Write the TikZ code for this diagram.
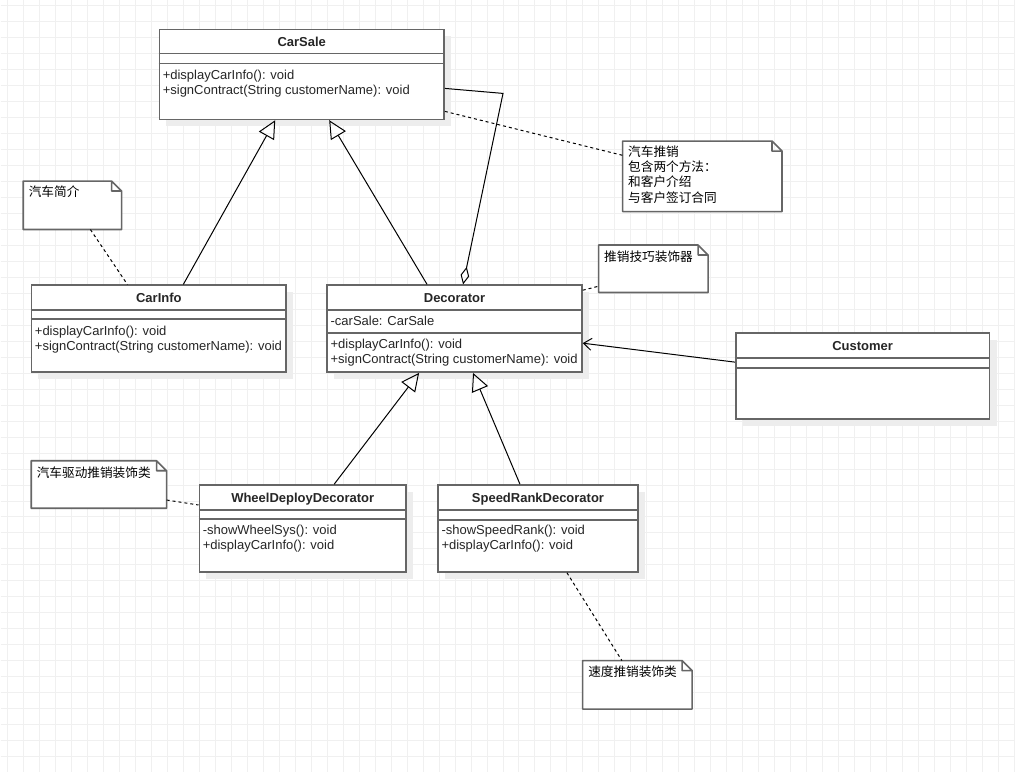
\documentclass[tikz,border=0pt]{standalone}
\usepackage{fontspec}
\setmainfont{Liberation Sans}
\newfontfamily\cjk{Noto Sans CJK SC}
\usetikzlibrary{arrows.meta,fit,shadows}

\begin{document}
\begin{tikzpicture}  % ------ Diagramme de classes : vente de voitures (décorateur) -------
      [x=.75pt, y=-.75pt, font=\fontsize{9.75}{11.25}\selectfont,
       grille/.style={black!6, line width=.75pt},
       classe/.style={draw=black!60, line width=1.2pt, fill=white, inner sep=0pt,
                      general shadow={fill=black!7, shadow xshift=5.25pt, shadow yshift=-5.25pt}},
       bloc/.style={inner sep=0pt},
       trait/.style={black!60, line width=1.2pt},
       bord/.style={draw=black!60, line width=1.2pt, fill=white, line join=round},
       titre/.style={anchor=base, inner sep=0pt, text=black!85, font=\fontsize{9.75}{11.25}\selectfont\bfseries},
       membres/.style={anchor=base west, align=left, inner sep=0pt, xshift=3pt, text=black!85},
       texte/.style={anchor=base west, align=left, inner sep=0pt, xshift=4pt,
                     font=\cjk\fontsize{9.5}{11.5}\selectfont},
       herite/.style={-{Triangle[open, length=13.5pt, width=13pt]}, line width=.75pt},
       agreg/.style={{Diamond[open, length=13.5pt, width=6.5pt]}-, line width=.75pt},
       assoc/.style={-{Straight Barb[length=6pt, width=9pt]}, line width=.75pt},
       pointille/.style={dash pattern=on 2.25pt off 2.25pt, line width=.75pt}]

    % fond quadrillé
    \fill[white] (0,0) rectangle (1015,772);
    \foreach \i in {7,23,...,1015} \draw[grille] (\i,0) -- (\i,772);
    \foreach \j in {5,21,...,772} \draw[grille] (0,\j) -- (1015,\j);
    \useasboundingbox (0,0) rectangle (1015,772);

    % classes
    \node[classe, fit={(159,29) (444,119)}] (CarSale) {};
    \node[classe, fit={(31,285) (286,372)}] (CarInfo) {};
    \node[classe, fit={(327,285) (582,372)}] (Deco) {};
    \node[classe, fit={(736,333) (990,419)}] (Client) {};
    \node[classe, fit={(199,485) (406,572)}] (Wheel) {};
    \node[classe, fit={(438,485) (638,572)}] (Speed) {};

    \draw[trait] (CarSale.west |- 0,53) -- (CarSale.east |- 0,53)  (CarSale.west |- 0,63) -- (CarSale.east |- 0,63);
    \draw[trait] (CarInfo.west |- 0,310) -- (CarInfo.east |- 0,310)  (CarInfo.west |- 0,319) -- (CarInfo.east |- 0,319);
    \draw[trait] (Deco.west |- 0,310) -- (Deco.east |- 0,310)  (Deco.west |- 0,333) -- (Deco.east |- 0,333);
    \draw[trait] (Client.west |- 0,358) -- (Client.east |- 0,358)  (Client.west |- 0,368) -- (Client.east |- 0,368);
    \draw[trait] (Wheel.west |- 0,510) -- (Wheel.east |- 0,510)  (Wheel.west |- 0,519) -- (Wheel.east |- 0,519);
    \draw[trait] (Speed.west |- 0,510) -- (Speed.east |- 0,510)  (Speed.west |- 0,520) -- (Speed.east |- 0,520);

    % (base d'un texte sur plusieurs lignes = dernière ligne)
    \node[titre] at (CarSale.north |- 0,46) {CarSale};
    \node[membres] at (CarSale.west |- 0,94) {+displayCarInfo(): void\\+signContract(String customerName): void};
    \node[titre] at (CarInfo.north |- 0,302) {CarInfo};
    \node[membres] at (CarInfo.west |- 0,350) {+displayCarInfo(): void\\+signContract(String customerName): void};
    \node[titre] at (Deco.north |- 0,302) {Decorator};
    \node[membres] at (Deco.west |- 0,325) {-carSale: CarSale};
    \node[membres] at (Deco.west |- 0,363) {+displayCarInfo(): void\\+signContract(String customerName): void};
    \node[titre] at (Client.north |- 0,350) {Customer};
    \node[titre] at (Wheel.north |- 0,502) {WheelDeployDecorator};
    \node[membres] at (Wheel.west |- 0,550) {-showWheelSys(): void\\+displayCarInfo(): void};
    \node[titre] at (Speed.north |- 0,502) {SpeedRankDecorator};
    \node[membres] at (Speed.west |- 0,550) {-showSpeedRank(): void\\+displayCarInfo(): void};

    % notes (coin replié)
    \node[bloc, fit={(23,181) (121,229)}] (noteInfo) {};
    \node[bloc, fit={(623,141) (782,211)}] (noteVente) {};
    \node[bloc, fit={(599,245) (708,292)}] (noteDeco) {};
    \node[bloc, fit={(31,461) (166,508)}] (noteWheel) {};
    \node[bloc, fit={(583,661) (692,709)}] (noteSpeed) {};
    \foreach \n in {noteInfo,noteVente,noteDeco,noteWheel,noteSpeed}
       \draw[bord] (\n.south west) -- (\n.north west) -- ([xshift=-7.5pt]\n.north east)
             -- ([yshift=-7.5pt]\n.north east) -- (\n.south east) -- cycle
             ([xshift=-7.5pt]\n.north east) -- ++(0,-7.5pt) -- ([yshift=-7.5pt]\n.north east);

    \node[texte] at (noteInfo.west |- 0,196) {汽车简介};
    \node[texte] at (noteVente.west |- 0,202) {汽车推销\\包含两个方法：\\和客户介绍\\与客户签订合同};
    \node[texte] at (noteDeco.west |- 0,261) {推销技巧装饰器};
    \node[texte] at (noteWheel.west |- 0,477) {汽车驱动推销装饰类};
    \node[texte] at (noteSpeed.west |- 0,677) {速度推销装饰类};

    % relations
    \coordinate (coude) at (503,93);
    \draw[herite] (CarInfo.north -| 183,0) -- (CarSale.south -| 275,0);
    \draw[herite] (Deco.north -| 427,0) -- (CarSale.south -| 329,0);
    \draw[herite] (Wheel.north -| 334,0) -- (Deco.south -| 419,0);
    \draw[herite] (Speed.north -| 520,0) -- (Deco.south -| 473,0);
    \draw[agreg] (Deco.north -| 463,0) -- (coude) -- (CarSale.east |- 0,88);
    \draw[assoc] (Client.west |- 0,362) -- (Deco.east |- 0,343);

    \draw[pointille] (noteInfo.south -| 90,0) -- (CarInfo.north -| 127,0);
    \draw[pointille] (CarSale.east |- 0,111) -- (noteVente.west |- 0,155);
    \draw[pointille] (Deco.east |- 0,290) -- (noteDeco.west |- 0,286);
    \draw[pointille] (noteWheel.east |- 0,500) -- (Wheel.west |- 0,505);
    \draw[pointille] (Speed.south -| 567,0) -- (noteSpeed.north -| 622,0);
\end{tikzpicture}
\end{document}
